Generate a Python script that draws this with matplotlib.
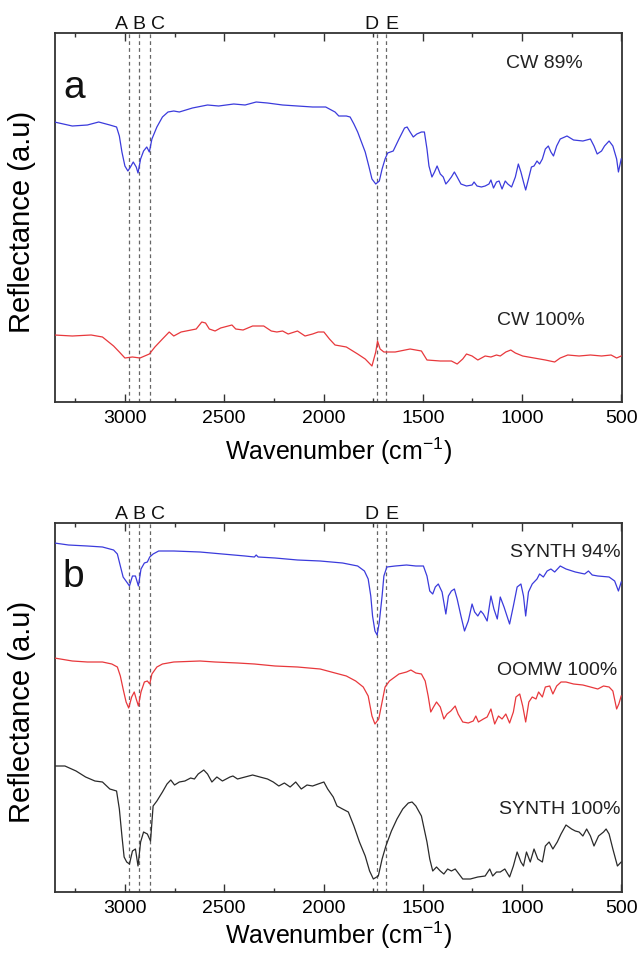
import matplotlib
matplotlib.use('Agg')
import matplotlib.pyplot as plt
from matplotlib.ticker import MultipleLocator

plt.rcParams['font.family'] = ['Liberation Sans', 'DejaVu Sans']

# ---- data (wavenumber in cm-1, reflectance in a.u.) ----
cw89_wn = [3355, 3265, 3189, 3132, 3076, 3042, 3028, 3015, 3000, 2985, 2972, 2958, 2943, 2934,
           2921, 2906, 2890, 2877, 2864, 2839, 2811, 2783, 2754, 2726, 2660, 2584, 2528, 2452,
           2395, 2339, 2282, 2206, 2131, 2055, 1989, 1942, 1923, 1885, 1866, 1847, 1828, 1809,
           1790, 1772, 1756, 1737, 1719, 1705, 1690, 1677, 1649, 1620, 1592, 1579, 1564, 1548,
           1530, 1507, 1492, 1479, 1469, 1454, 1441, 1428, 1412, 1397, 1384, 1371, 1356, 1341,
           1327, 1308, 1280, 1252, 1242, 1227, 1205, 1186, 1167, 1157, 1144, 1129, 1116, 1101,
           1085, 1072, 1053, 1034, 1019, 1006, 993, 982, 968, 953, 940, 925, 912, 898, 883, 868,
           855, 842, 826, 808, 774, 741, 694, 656, 638, 622, 600, 585, 562, 543, 524, 515, 501]
cw89_r = [280, 276, 277, 280, 277, 275, 266, 250, 236, 231, 235, 240, 235, 229,
          243, 251, 255, 250, 263, 275, 285, 290, 291, 290, 294, 297, 296, 298,
          297, 300, 299, 297, 296, 295, 295, 290, 286, 286, 285, 278, 270, 260,
          250, 236, 223, 218, 221, 233, 243, 249, 251, 263, 274, 275, 270, 265,
          268, 270, 270, 253, 236, 225, 230, 236, 228, 225, 218, 221, 225, 230,
          225, 218, 216, 217, 220, 216, 215, 216, 218, 222, 214, 220, 221, 213,
          221, 218, 215, 225, 238, 230, 220, 212, 223, 235, 236, 241, 238, 243, 253, 256,
          250, 246, 256, 263, 266, 262, 261, 263, 256, 248, 251, 256, 261, 256, 243, 230, 243]

cw100_wn = [3355, 3265, 3170, 3113, 3057, 3028, 3000, 2962, 2924, 2877, 2849, 2811, 2777, 2754,
            2717, 2641, 2613, 2594, 2575, 2546, 2518, 2461, 2442, 2405, 2357, 2301, 2263, 2235,
            2206, 2178, 2131, 2093, 2055, 2027, 1998, 1970, 1942, 1885, 1828, 1790, 1756, 1737,
            1728, 1715, 1696, 1639, 1564, 1507, 1479, 1412, 1356, 1327, 1299, 1280, 1252, 1223,
            1186, 1157, 1129, 1110, 1082, 1057, 1034, 997, 940, 883, 836, 808, 770, 713, 656,
            600, 552, 524, 501]
cw100_r = [67, 66, 67, 65, 56, 50, 44, 45, 44, 48, 55, 63, 70, 66,
           70, 73, 80, 79, 73, 71, 74, 77, 73, 72, 76, 76, 71, 70,
           71, 68, 71, 66, 68, 70, 70, 63, 57, 55, 48, 43, 36, 50,
           61, 53, 50, 50, 53, 51, 42, 41, 41, 38, 43, 48, 46, 42,
           46, 45, 47, 46, 50, 52, 49, 46, 44, 42, 40, 44, 47, 46, 47,
           46, 47, 44, 46]

s94_wn = [3355, 3284, 3189, 3113, 3057, 3038, 3023, 3009, 2991, 2977, 2962, 2947, 2932, 2919,
          2902, 2887, 2875, 2858, 2830, 2754, 2622, 2509, 2395, 2348, 2339, 2329, 2244, 2131,
          2017, 1904, 1828, 1794, 1775, 1762, 1753, 1741, 1730, 1719, 1705, 1696, 1681, 1639,
          1582, 1535, 1497, 1479, 1465, 1450, 1437, 1422, 1403, 1384, 1371, 1356, 1341, 1327,
          1308, 1290, 1271, 1252, 1239, 1223, 1208, 1195, 1176, 1157, 1142, 1125, 1110, 1091,
          1063, 1044, 1025, 1006, 993, 982, 968, 949, 925, 912, 893, 874, 855, 836, 808, 779,
          732, 685, 666, 647, 619, 562, 534, 515, 501]
s94_r = [349, 347, 346, 345, 342, 338, 326, 315, 310, 306, 316, 316, 306, 323,
         329, 330, 335, 338, 341, 341, 340, 338, 336, 335, 337, 335, 334, 332,
         331, 329, 326, 321, 313, 296, 276, 261, 257, 270, 296, 316, 325, 326,
         327, 326, 326, 316, 301, 298, 305, 308, 300, 278, 296, 301, 303, 293,
         276, 261, 271, 288, 280, 276, 281, 278, 271, 296, 283, 273, 295, 285,
         268, 286, 305, 308, 296, 276, 300, 308, 313, 318, 315, 321, 323, 320, 326, 323,
         320, 318, 321, 317, 316, 315, 311, 301, 310]

oomw_wn = [3355, 3265, 3189, 3113, 3066, 3038, 3023, 3009, 2994, 2981, 2966, 2953, 2943, 2932,
           2919, 2902, 2887, 2875, 2864, 2839, 2811, 2754, 2622, 2546, 2433, 2348, 2244, 2131,
           2017, 1942, 1885, 1838, 1800, 1775, 1756, 1741, 1722, 1705, 1690, 1668, 1620, 1582,
           1560, 1535, 1507, 1488, 1473, 1460, 1446, 1431, 1412, 1394, 1378, 1359, 1337, 1322,
           1299, 1271, 1246, 1233, 1220, 1195, 1176, 1157, 1138, 1119, 1101, 1082, 1063, 1044,
           1031, 1012, 997, 982, 966, 949, 930, 917, 898, 883, 861, 845, 826, 804, 779, 741,
           694, 656, 619, 590, 562, 543, 524, 513, 501]
oomw_r = [234, 231, 230, 230, 228, 225, 216, 203, 190, 184, 195, 200, 193, 186,
          200, 210, 211, 208, 218, 225, 228, 230, 231, 230, 229, 228, 226, 225,
          223, 219, 216, 211, 205, 196, 176, 168, 173, 190, 205, 211, 218, 220,
          222, 219, 218, 211, 196, 180, 185, 190, 185, 173, 178, 181, 186, 178,
          170, 169, 171, 176, 170, 173, 175, 183, 168, 176, 173, 178, 169, 180,
          195, 198, 186, 170, 190, 195, 193, 200, 195, 205, 206, 198, 206, 210, 210, 208,
          207, 205, 203, 206, 205, 201, 183, 188, 196]

s100_wn = [3355, 3302, 3246, 3198, 3151, 3113, 3076, 3042, 3028, 3015, 3004, 2991, 2977, 2962,
           2947, 2934, 2921, 2906, 2887, 2871, 2858, 2839, 2811, 2788, 2769, 2750, 2726, 2698,
           2669, 2650, 2631, 2603, 2584, 2562, 2537, 2509, 2471, 2456, 2433, 2395, 2357, 2320,
           2282, 2253, 2225, 2197, 2168, 2140, 2112, 2083, 2055, 2027, 1998, 1979, 1951, 1932,
           1904, 1875, 1847, 1819, 1790, 1768, 1749, 1724, 1705, 1686, 1658, 1630, 1601, 1573,
           1554, 1535, 1507, 1479, 1465, 1450, 1431, 1412, 1394, 1375, 1356, 1337, 1318, 1299,
           1261, 1223, 1186, 1163, 1148, 1129, 1110, 1087, 1063, 1044, 1025, 1006, 993, 978,
           959, 940, 921, 898, 883, 864, 845, 823, 804, 779, 751, 732, 713, 694, 675, 656,
           638, 615, 590, 577, 562, 543, 520, 501]
s100_r = [126, 126, 121, 115, 111, 110, 103, 101, 83, 56, 35, 30, 28, 41,
          43, 26, 50, 60, 58, 51, 86, 91, 100, 108, 112, 107, 110, 111,
          114, 113, 118, 122, 118, 110, 115, 111, 115, 116, 113, 115, 117, 115,
          113, 110, 106, 109, 105, 110, 103, 107, 106, 108, 110, 103, 95, 86,
          83, 80, 66, 50, 36, 21, 13, 16, 33, 46, 61, 73, 83, 89,
          90, 86, 76, 50, 33, 21, 25, 21, 18, 23, 21, 23, 18, 13,
          13, 15, 16, 23, 16, 20, 20, 23, 15, 26, 40, 30, 26, 40,
          30, 43, 33, 30, 46, 50, 43, 50, 58, 67, 63, 61, 60, 56, 63, 56,
          46, 56, 60, 63, 58, 43, 26, 30]

band_wn = [2980, 2930, 2872, 1730, 1686]
band_labels = ['A', 'B', 'C', 'D', 'E']
band_label_wn = [3015, 2929, 2834, 1761, 1655]

BLUE = '#3b3bdc'
RED = '#e8383c'
BLACK = '#2a2a2a'

fig = plt.figure(figsize=(6.39, 9.54), dpi=100)
W, H = 639.0, 954.0
ax_a = fig.add_axes([55 / W, (H - 403) / H, 567 / W, 369 / H])
ax_b = fig.add_axes([55 / W, (H - 893) / H, 567 / W, 369 / H])


def style_axis(ax, labelpad):
    ax.set_xlim(3352, 497)
    ax.set_ylim(0, 369)
    ax.xaxis.set_major_locator(MultipleLocator(500))
    ax.xaxis.set_minor_locator(MultipleLocator(250))
    ax.tick_params(axis='x', which='both', direction='in', top=True, bottom=True,
                   labelsize=14, pad=5, color='#333333')
    ax.tick_params(axis='x', which='major', length=6, width=1)
    ax.tick_params(axis='x', which='minor', length=3, width=1)
    ax.set_yticks([])
    for s in ax.spines.values():
        s.set_linewidth(1.3)
        s.set_color('#333333')
    for wn in band_wn:
        ax.axvline(wn, color='#666666', lw=0.9, ls=(0, (3, 2.5)), zorder=1)
    for lab, wn in zip(band_labels, band_label_wn):
        ax.text(wn, 1.027, lab, transform=ax.get_xaxis_transform(), ha='center',
                va='center', fontsize=14, color='#111111', clip_on=False)
    ax.set_xlabel('Wavenumber (cm$^{\\mathregular{-1}}$)', fontsize=18, labelpad=labelpad)
    ax.set_ylabel('Reflectance (a.u)', fontsize=21)
    ax.yaxis.set_label_coords(-0.033, 0.49)


# panel a
style_axis(ax_a, 6)
ax_a.plot(cw89_wn, cw89_r, color=BLUE, lw=0.9, zorder=3)
ax_a.plot(cw100_wn, cw100_r, color=RED, lw=0.9, zorder=3)
ax_a.text(693, 340, 'CW 89%', ha='right', va='center', fontsize=14, color='#222222')
ax_a.text(683, 82, 'CW 100%', ha='right', va='center', fontsize=14, color='#222222')
ax_a.text(0.014, 315, 'a', transform=ax_a.get_yaxis_transform(), ha='left', va='center',
          fontsize=28, color='#111111')

# panel b
style_axis(ax_b, 2)
ax_b.plot(s94_wn, s94_r, color=BLUE, lw=0.9, zorder=3)
ax_b.plot(oomw_wn, oomw_r, color=RED, lw=0.9, zorder=3)
ax_b.plot(s100_wn, s100_r, color=BLACK, lw=0.9, zorder=3)
ax_b.text(506, 340, 'SYNTH 94%', ha='right', va='center', fontsize=14, color='#222222')
ax_b.text(521, 222, 'OOMW 100%', ha='right', va='center', fontsize=14, color='#222222')
ax_b.text(506, 83, 'SYNTH 100%', ha='right', va='center', fontsize=14, color='#222222')
ax_b.text(0.014, 316, 'b', transform=ax_b.get_yaxis_transform(), ha='left', va='center',
          fontsize=28, color='#111111')

fig.savefig('out.png', dpi=100)
